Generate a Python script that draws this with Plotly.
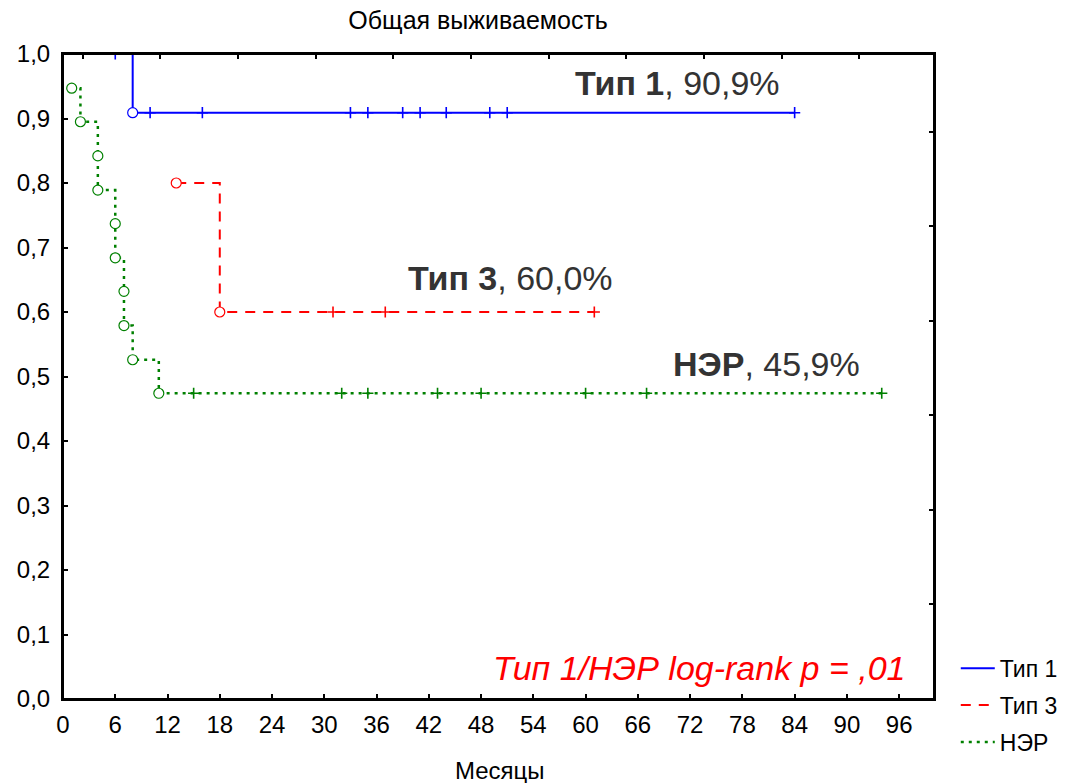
import plotly.graph_objects as go

# ---------------- data ----------------
# Тип 1 (time in months, survival, 1 = event, 0 = censored)
t1_time = [6, 8, 10, 16, 33, 35, 39, 41, 44, 49, 51, 84]
t1_surv = [1.0, 0.909, 0.909, 0.909, 0.909, 0.909, 0.909, 0.909, 0.909, 0.909, 0.909, 0.909]
t1_event = [0, 1, 0, 0, 0, 0, 0, 0, 0, 0, 0, 0]

# Тип 3
t3_time = [13, 18, 31, 37, 61]
t3_surv = [0.8, 0.6, 0.6, 0.6, 0.6]
t3_event = [1, 1, 0, 0, 0]

# НЭР
ner_time = [1, 2, 4, 4, 6, 6, 7, 7, 8, 11, 15, 32, 35, 43, 48, 60, 67, 94]
ner_surv = [0.947, 0.895, 0.842, 0.789, 0.737, 0.684, 0.632, 0.579, 0.526, 0.474,
            0.474, 0.474, 0.474, 0.474, 0.474, 0.474, 0.474, 0.474]
ner_event = [1, 1, 1, 1, 1, 1, 1, 1, 1, 1, 0, 0, 0, 0, 0, 0, 0, 0]

x_ticks = list(range(0, 97, 6))
y_ticks = [0.0, 0.1, 0.2, 0.3, 0.4, 0.5, 0.6, 0.7, 0.8, 0.9, 1.0]
y_ticklabels = ["0,0", "0,1", "0,2", "0,3", "0,4", "0,5", "0,6", "0,7", "0,8", "0,9", "1,0"]

series = [
    ("Тип 1", t1_time, t1_surv, t1_event, "#0000ff", "solid", 2),
    ("Тип 3", t3_time, t3_surv, t3_event, "#ff0000", "10px,8px", 2),
    ("НЭР", ner_time, ner_surv, ner_event, "#008000", "3px,5px", 2.5),
]

FONT = "Liberation Sans, Arial, sans-serif"

fig = go.Figure()
for name, t, s, e, col, dash, lw in series:
    fig.add_trace(go.Scatter(
        x=t, y=s, mode="lines", name=name, legendgroup=name,
        line=dict(color=col, width=lw, dash=dash, shape="hv"), hoverinfo="skip"))
for name, t, s, e, col, dash, lw in series:
    ev_x = [ti for ti, ei in zip(t, e) if ei == 1]
    ev_y = [si for si, ei in zip(s, e) if ei == 1]
    ce_x = [ti for ti, ei in zip(t, e) if ei == 0]
    ce_y = [si for si, ei in zip(s, e) if ei == 0]
    fig.add_trace(go.Scatter(
        x=ce_x, y=ce_y, mode="markers", showlegend=False, hoverinfo="skip", legendgroup=name,
        marker=dict(symbol="cross-thin-open", size=8, color=col, line=dict(width=1.6, color=col))))
    fig.add_trace(go.Scatter(
        x=ev_x, y=ev_y, mode="markers", showlegend=False, hoverinfo="skip", legendgroup=name,
        marker=dict(symbol="circle", size=10, color="white", line=dict(width=1.2, color=col))))

# dummy trace for the top/right tick frame axes
fig.add_trace(go.Scatter(x=[None], y=[None], xaxis="x2", yaxis="y2", showlegend=False, hoverinfo="skip"))

fig.update_layout(
    width=1072, height=783,
    margin=dict(l=63, r=138, t=54, b=84, autoexpand=False),
    paper_bgcolor="white", plot_bgcolor="white",
    font=dict(family=FONT, size=22, color="black"),
    title=dict(text="Общая выживаемость", x=0.446, xanchor="center", y=0.974, yanchor="middle",
               font=dict(size=25, family=FONT, color="black")),
    xaxis=dict(range=[0, 100], tickvals=x_ticks, ticks="inside", ticklen=5, tickwidth=1.5,
               tickcolor="black", showline=True, linewidth=2, linecolor="black", mirror=True,
               showgrid=False, zeroline=False, ticklabelstandoff=3, automargin=False,
               tickfont=dict(size=24)),
    yaxis=dict(range=[0, 1], tickvals=y_ticks, ticktext=y_ticklabels, ticks="inside", ticklen=5,
               tickwidth=1.5, tickcolor="black", showline=True, linewidth=2, linecolor="black",
               mirror=True, showgrid=False, zeroline=False, tickfont=dict(size=24),
               ticklabelstandoff=6, automargin=False),
    xaxis2=dict(overlaying="x", side="top", range=[-0.254, 10.96], tickvals=list(range(0, 11)),
                ticks="inside", ticklen=5, tickwidth=1.5, tickcolor="black", showticklabels=False,
                showgrid=False, zeroline=False, showline=False, automargin=False),
    yaxis2=dict(overlaying="y", side="right", range=[0, 6.825], tickvals=list(range(1, 7)),
                ticks="inside", ticklen=5, tickwidth=1.5, tickcolor="black", showticklabels=False,
                showgrid=False, zeroline=False, showline=False, automargin=False),
    legend=dict(x=1.025, xanchor="left", y=0.081, yanchor="top", bgcolor="rgba(0,0,0,0)",
                font=dict(size=23, family=FONT, color="black"), tracegroupgap=4,
                traceorder="grouped", itemwidth=34),
    showlegend=True,
)

# frame drawn above the traces
fig.add_shape(type="rect", xref="paper", yref="paper", x0=0, y0=0, x1=1, y1=1,
              line=dict(color="black", width=2), layer="above")

# x axis title
fig.add_annotation(x=(500 - 63) / 871, y=(699 - 770) / 645, xref="paper", yref="paper",
                   text="Месяцы", showarrow=False, xanchor="center", yanchor="middle",
                   font=dict(size=24, color="black", family=FONT))

ann_col = "#333333"
fig.add_annotation(x=(782 - 63) / 871, y=(699 - 83) / 645, xref="paper", yref="paper",
                   text="<b>Тип 1</b>, 90,9%", showarrow=False, xanchor="right", yanchor="middle",
                   font=dict(size=34, color=ann_col, family=FONT))
fig.add_annotation(x=(615 - 63) / 871, y=(699 - 278) / 645, xref="paper", yref="paper",
                   text="<b>Тип 3</b>, 60,0%", showarrow=False, xanchor="right", yanchor="middle",
                   font=dict(size=34, color=ann_col, family=FONT))
fig.add_annotation(x=(862 - 63) / 871, y=(699 - 364) / 645, xref="paper", yref="paper",
                   text="<b>НЭР</b>, 45,9%", showarrow=False, xanchor="right", yanchor="middle",
                   font=dict(size=34, color=ann_col, family=FONT))
fig.add_annotation(x=(908 - 63) / 871, y=(699 - 668) / 645, xref="paper", yref="paper",
                   text="<i>Тип 1/НЭР log-rank p = ,01</i>", showarrow=False, xanchor="right",
                   yanchor="middle", font=dict(size=34, color="#ff0000", family=FONT))

fig.write_html("out.html")
